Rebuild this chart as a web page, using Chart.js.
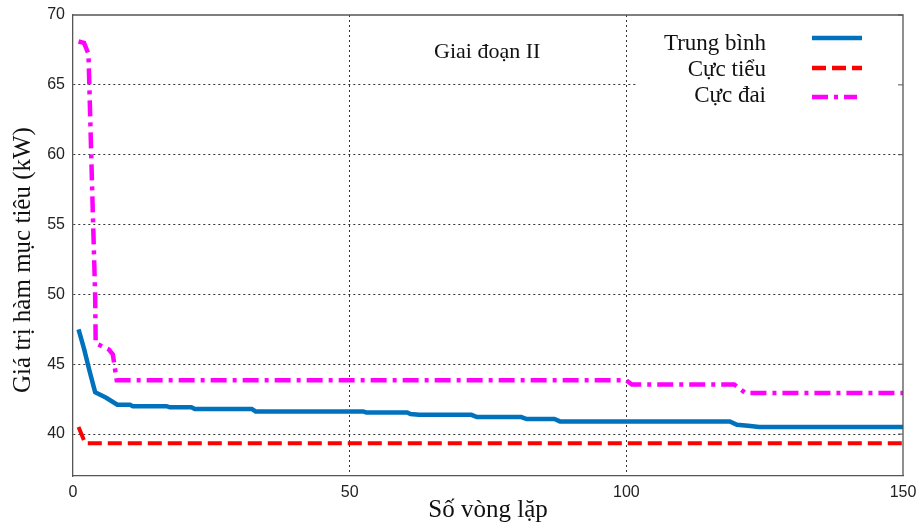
<!DOCTYPE html>
<html>
<head>
<meta charset="utf-8">
<script src="https://cdn.jsdelivr.net/npm/chart.js@4.4.0/dist/chart.umd.min.js"></script>
<style>
  html, body { margin: 0; padding: 0; background: #fff; }
  #wrap { width: 922px; height: 526px; }
</style>
</head>
<body>
<div id="wrap"><canvas id="chart" width="922" height="526"></canvas></div>
<script>
var xTicks = [0, 50, 100, 150];
var yTicks = [40, 45, 50, 55, 60, 65, 70];

var seriesNames = ['Trung bình', 'Cực tiểu', 'Cực đai'];
var yTitle = 'Giá trị hàm mục tiêu (kW)';

var avgX = [1, 2, 3, 4, 6, 8, 10.3, 10.8, 16.9, 17.5, 21.4, 22, 32.3, 33, 52.4, 53, 60.4, 61, 62.5, 72, 73, 81, 82, 87, 88, 118.7, 120, 122, 124, 150];
var avgY = [47.5, 46.1, 44.5, 43.0, 42.6, 42.1, 42.1, 42.0, 42.0, 41.92, 41.92, 41.8, 41.8, 41.62, 41.62, 41.55, 41.55, 41.44, 41.38, 41.38, 41.22, 41.22, 41.08, 41.08, 40.91, 40.91, 40.67, 40.6, 40.5, 40.5];

var minX = [1, 2.2, 150];
var minY = [40.5, 39.35, 39.35];

var maxX = [1, 2, 2.8, 3.5, 4.0, 4.1, 6.5, 7.2, 7.9, 100, 101, 119.5, 121.5, 150];
var maxY = [68.1, 68.0, 67.2, 57.0, 50.0, 46.5, 46.05, 45.7, 43.85, 43.85, 43.55, 43.55, 42.95, 42.95];

var colors = ['#0072BD', '#FF0000', '#FF00FF'];
var dashes = [[], [14, 6], [16, 6, 4, 6]];

function toPoints(xs, ys) {
  return xs.map(function (x, i) { return { x: x, y: ys[i] }; });
}

// legend box, annotation, y title, top/right frame
var decorPlugin = {
  id: 'decor',
  afterDraw: function (chart) {
    var ctx = chart.ctx;
    var a = chart.chartArea;
    ctx.save();

    ctx.fillStyle = '#fff';
    ctx.fillRect(636, a.top + 1, a.right - 636 - 1, 96);

    ctx.strokeStyle = '#555';
    ctx.lineWidth = 1.3;
    ctx.setLineDash([]);
    ctx.beginPath();
    ctx.moveTo(a.left, a.top);
    ctx.lineTo(a.right, a.top);
    ctx.lineTo(a.right, a.bottom);
    ctx.stroke();

    // inner ticks on the right edge
    var ys = chart.scales.y;
    ctx.lineWidth = 1;
    yTicks.forEach(function (v) {
      var py = ys.getPixelForValue(v);
      ctx.beginPath();
      ctx.moveTo(a.right, py);
      ctx.lineTo(a.right - 5, py);
      ctx.stroke();
    });

    ctx.fillStyle = '#111';
    ctx.font = '22px "Liberation Serif"';
    ctx.textAlign = 'left';
    ctx.textBaseline = 'alphabetic';
    ctx.fillText('Giai đoạn II', 434, 58);

    ctx.font = '23px "Liberation Serif"';
    ctx.textAlign = 'right';
    var textY = [50, 76, 102];
    var lineY = [38, 68, 97];
    var lineEnd = [862, 862, 857];
    seriesNames.forEach(function (name, i) {
      ctx.fillStyle = '#111';
      ctx.fillText(name, 766, textY[i]);
      ctx.strokeStyle = colors[i];
      ctx.lineWidth = 4.5;
      ctx.setLineDash(dashes[i]);
      ctx.beginPath();
      ctx.moveTo(812, lineY[i]);
      ctx.lineTo(lineEnd[i], lineY[i]);
      ctx.stroke();
    });

    // y axis title, sits a bit below the middle like the original
    ctx.translate(23, 260);
    ctx.rotate(-Math.PI / 2);
    ctx.font = '25px "Liberation Serif"';
    ctx.textAlign = 'center';
    ctx.textBaseline = 'middle';
    ctx.fillStyle = '#111';
    ctx.fillText(yTitle, 0, 0);
    ctx.restore();
  }
};

var chart = new Chart(document.getElementById('chart'), {
  type: 'line',
  data: {
    datasets: [
      { label: seriesNames[0], data: toPoints(avgX, avgY), borderColor: colors[0], borderWidth: 4.5, borderDash: dashes[0] },
      { label: seriesNames[1], data: toPoints(minX, minY), borderColor: colors[1], borderWidth: 4, borderDash: dashes[1] },
      { label: seriesNames[2], data: toPoints(maxX, maxY), borderColor: colors[2], borderWidth: 4.5, borderDash: dashes[2] }
    ]
  },
  options: {
    responsive: false,
    animation: false,
    layout: { padding: { top: 15, right: 19, left: 0, bottom: 0 } },
    elements: { point: { radius: 0 }, line: { tension: 0, fill: false } },
    plugins: { legend: { display: false }, tooltip: { enabled: false } },
    scales: {
      x: {
        type: 'linear',
        min: 0,
        max: 150,
        afterBuildTicks: function (scale) {
          scale.ticks = xTicks.map(function (v) { return { value: v }; });
        },
        afterFit: function (scale) {
          scale.height = 50;
          scale.paddingLeft = 0;
          scale.paddingRight = 0;
        },
        grid: {
          drawTicks: false,
          lineWidth: 1,
          color: function (c) {
            var v = c.tick ? c.tick.value : null;
            return (v === 0 || v === 150) ? 'rgba(0,0,0,0)' : '#333';
          }
        },
        border: { display: true, color: '#555', width: 1.3, dash: [2, 3] },
        ticks: {
          padding: 7,
          color: '#222',
          font: { family: '"Liberation Sans"', size: 16 },
          maxRotation: 0
        },
        title: {
          display: true,
          text: 'Số vòng lặp',
          color: '#111',
          font: { family: '"Liberation Serif"', size: 25 },
          padding: { top: 0, bottom: 1 }
        }
      },
      y: {
        min: 37,
        max: 70,
        afterBuildTicks: function (scale) {
          scale.ticks = yTicks.map(function (v) { return { value: v }; });
        },
        afterFit: function (scale) {
          scale.width = 73;
          scale.paddingTop = 0;
          scale.paddingBottom = 0;
        },
        grid: {
          drawTicks: false,
          lineWidth: 1,
          color: function (c) {
            var v = c.tick ? c.tick.value : null;
            return v === 70 ? 'rgba(0,0,0,0)' : '#333';
          }
        },
        border: { display: true, color: '#555', width: 1.3, dash: [2, 3] },
        ticks: {
          padding: 8,
          color: '#222',
          font: { family: '"Liberation Sans"', size: 16 }
        },
        title: { display: false }
      }
    }
  },
  plugins: [decorPlugin]
});
</script>
</body>
</html>
